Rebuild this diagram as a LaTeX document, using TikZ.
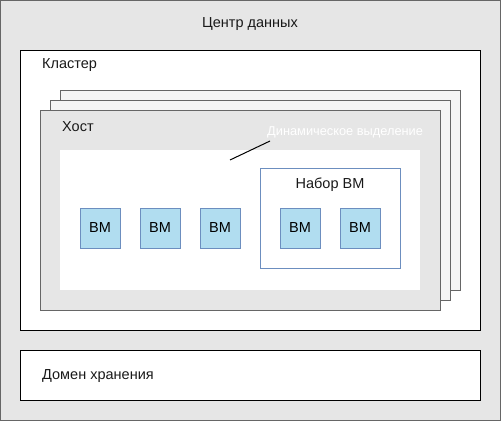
\documentclass[tikz,border=0pt]{standalone}
\usepackage{fontspec}
\setmainfont{Liberation Sans}
\definecolor{bggray}{HTML}{E6E6E6}
\definecolor{edgegray}{HTML}{666666}
\definecolor{backhost}{HTML}{F5F5F5}
\definecolor{vmfill}{HTML}{B1DDF0}
\definecolor{vmedge}{HTML}{6C8EBF}
\begin{document}
\begin{tikzpicture}[x=1pt,y=-1pt,
  lbl/.style={font=\fontsize{14.5}{16}\selectfont, text=black!90, inner sep=0pt},
  hostbox/.style={draw=edgegray, line width=1pt},
  vmbox/.style={draw=vmedge, fill=vmfill, line width=1pt, minimum width=40pt, minimum height=40pt, inner sep=0pt, font=\fontsize{14.5}{16}\selectfont},
]
\useasboundingbox (0,0) rectangle (501,421);
% data center
\draw[draw=edgegray, fill=bggray, line width=1pt] (0.5,0.5) rectangle (500.5,420.5);
\node[lbl] (dc) at (250,24.5) {Центр данных};
% cluster
\draw[draw=black, fill=white, line width=1pt] (20.5,50.5) rectangle (480.5,330.5);
\node[lbl, anchor=west] (cl) at (42,65.5) {Кластер};
% hosts
\draw[hostbox, fill=backhost] (60.5,90.5) rectangle (460.5,290.5);
\draw[hostbox, fill=backhost] (50.5,100.5) rectangle (450.5,300.5);
\draw[hostbox, fill=bggray] (40.5,110.5) rectangle (440.5,310.5);
\node[lbl, anchor=west] (host) at (62,126.5) {Хост};
% inner white area
\fill[white] (60,150) rectangle (420,290);
\node[font=\fontsize{12.8}{14}\selectfont, text=white, anchor=west, inner sep=0pt] (dyn) at (267,132) {Динамическое выделение};
\coordinate (dynend) at (230,160);
\draw[black, line width=1pt] (dynend) -- (270,141);
% VM set
\draw[draw=vmedge, fill=white, line width=1pt] (260.5,168.5) rectangle (400.5,268.5);
\node[lbl] (set) at (330,184.5) {Набор ВМ};
% VMs
\node[vmbox] (vm1) at (100,228) {ВМ};
\node[vmbox] (vm2) at (160,228) {ВМ};
\node[vmbox] (vm3) at (220,228) {ВМ};
\node[vmbox] (vm4) at (300,228) {ВМ};
\node[vmbox] (vm5) at (360,228) {ВМ};
% storage
\draw[draw=black, fill=white, line width=1pt] (20.5,350.5) rectangle (480.5,400.5);
\node[lbl, anchor=west] (st) at (42,376.5) {Домен хранения};
\end{tikzpicture}
\end{document}
